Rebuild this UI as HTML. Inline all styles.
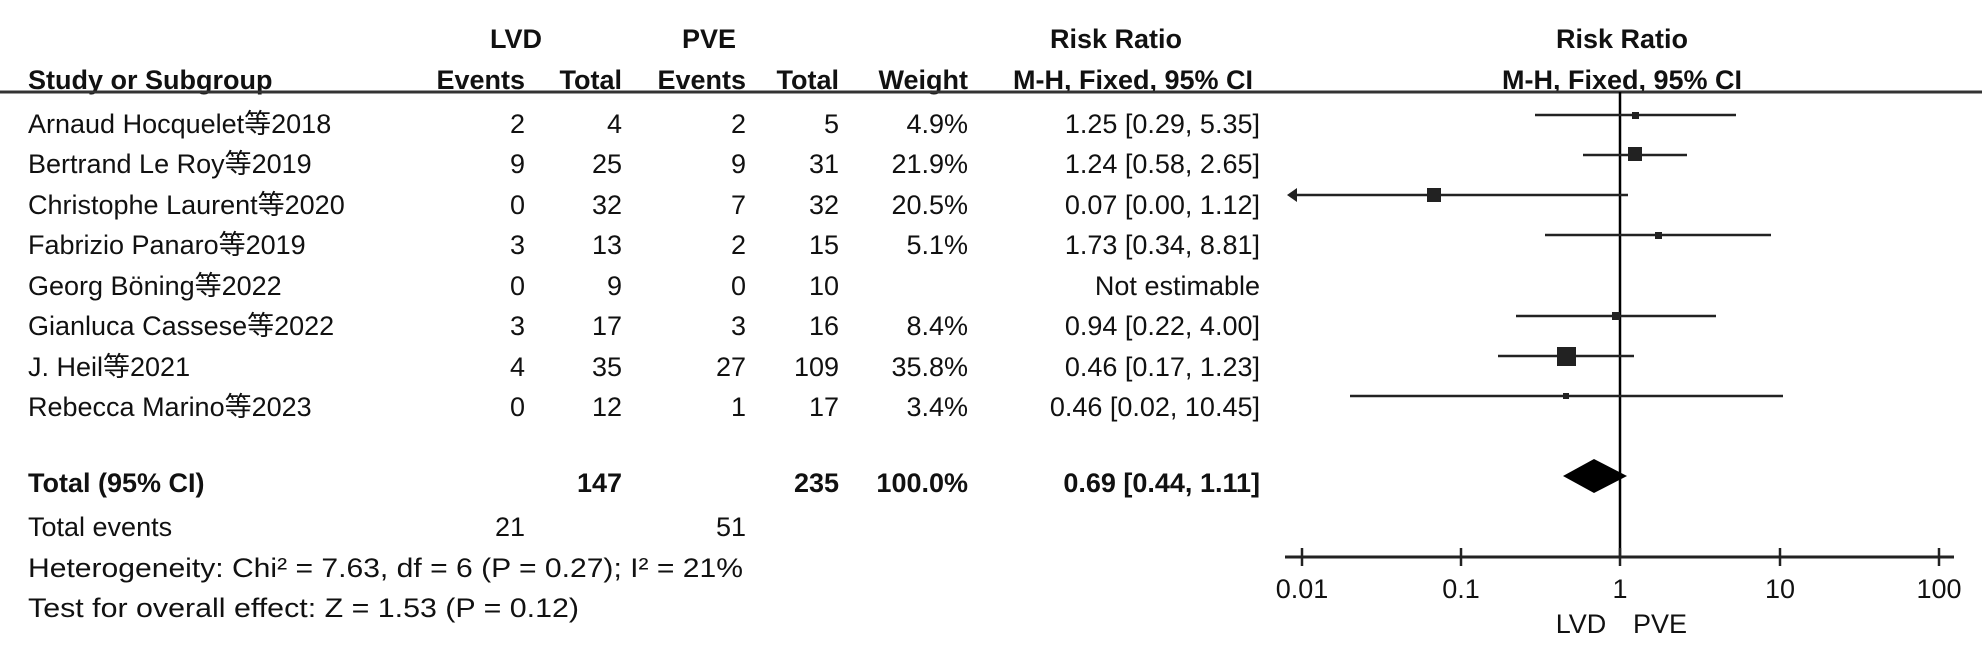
<!DOCTYPE html>
<html><head><meta charset="utf-8"><style>
html,body{margin:0;padding:0;background:#fff}
svg{display:block}
text{font-family:"Liberation Sans","Noto Sans CJK SC",sans-serif;font-size:27px;fill:#111}
.b{font-weight:bold}
</style></head><body>
<svg width="1982" height="670" viewBox="0 0 1982 670" xmlns="http://www.w3.org/2000/svg">
<text class="b" x="516" y="48" text-anchor="middle">LVD</text>
<text class="b" x="709" y="48" text-anchor="middle">PVE</text>
<text class="b" x="1116" y="48" text-anchor="middle">Risk Ratio</text>
<text class="b" x="1622" y="48" text-anchor="middle">Risk Ratio</text>
<text class="b" x="28" y="89">Study or Subgroup</text>
<text class="b" x="525" y="89" text-anchor="end">Events</text>
<text class="b" x="622" y="89" text-anchor="end">Total</text>
<text class="b" x="746" y="89" text-anchor="end">Events</text>
<text class="b" x="839" y="89" text-anchor="end">Total</text>
<text class="b" x="968" y="89" text-anchor="end">Weight</text>
<text class="b" x="1133" y="89" text-anchor="middle">M-H, Fixed, 95% CI</text>
<text class="b" x="1622" y="89" text-anchor="middle">M-H, Fixed, 95% CI</text>
<line x1="0" y1="92" x2="1982" y2="92" stroke="#333" stroke-width="3"/>
<g id="rows">
<text x="28" y="133">Arnaud Hocquelet等2018</text><text x="525" y="133" text-anchor="end">2</text><text x="622" y="133" text-anchor="end">4</text><text x="746" y="133" text-anchor="end">2</text><text x="839" y="133" text-anchor="end">5</text><text x="968" y="133" text-anchor="end">4.9%</text><text x="1260" y="133" text-anchor="end">1.25 [0.29, 5.35]</text>
<text x="28" y="173">Bertrand Le Roy等2019</text><text x="525" y="173" text-anchor="end">9</text><text x="622" y="173" text-anchor="end">25</text><text x="746" y="173" text-anchor="end">9</text><text x="839" y="173" text-anchor="end">31</text><text x="968" y="173" text-anchor="end">21.9%</text><text x="1260" y="173" text-anchor="end">1.24 [0.58, 2.65]</text>
<text x="28" y="214">Christophe Laurent等2020</text><text x="525" y="214" text-anchor="end">0</text><text x="622" y="214" text-anchor="end">32</text><text x="746" y="214" text-anchor="end">7</text><text x="839" y="214" text-anchor="end">32</text><text x="968" y="214" text-anchor="end">20.5%</text><text x="1260" y="214" text-anchor="end">0.07 [0.00, 1.12]</text>
<text x="28" y="254">Fabrizio Panaro等2019</text><text x="525" y="254" text-anchor="end">3</text><text x="622" y="254" text-anchor="end">13</text><text x="746" y="254" text-anchor="end">2</text><text x="839" y="254" text-anchor="end">15</text><text x="968" y="254" text-anchor="end">5.1%</text><text x="1260" y="254" text-anchor="end">1.73 [0.34, 8.81]</text>
<text x="28" y="295">Georg Böning等2022</text><text x="525" y="295" text-anchor="end">0</text><text x="622" y="295" text-anchor="end">9</text><text x="746" y="295" text-anchor="end">0</text><text x="839" y="295" text-anchor="end">10</text><text x="1260" y="295" text-anchor="end">Not estimable</text>
<text x="28" y="335">Gianluca Cassese等2022</text><text x="525" y="335" text-anchor="end">3</text><text x="622" y="335" text-anchor="end">17</text><text x="746" y="335" text-anchor="end">3</text><text x="839" y="335" text-anchor="end">16</text><text x="968" y="335" text-anchor="end">8.4%</text><text x="1260" y="335" text-anchor="end">0.94 [0.22, 4.00]</text>
<text x="28" y="376">J. Heil等2021</text><text x="525" y="376" text-anchor="end">4</text><text x="622" y="376" text-anchor="end">35</text><text x="746" y="376" text-anchor="end">27</text><text x="839" y="376" text-anchor="end">109</text><text x="968" y="376" text-anchor="end">35.8%</text><text x="1260" y="376" text-anchor="end">0.46 [0.17, 1.23]</text>
<text x="28" y="416">Rebecca Marino等2023</text><text x="525" y="416" text-anchor="end">0</text><text x="622" y="416" text-anchor="end">12</text><text x="746" y="416" text-anchor="end">1</text><text x="839" y="416" text-anchor="end">17</text><text x="968" y="416" text-anchor="end">3.4%</text><text x="1260" y="416" text-anchor="end">0.46 [0.02, 10.45]</text>
</g>
<text class="b" x="28" y="492">Total (95% CI)</text>
<text class="b" x="622" y="492" text-anchor="end">147</text>
<text class="b" x="839" y="492" text-anchor="end">235</text>
<text class="b" x="968" y="492" text-anchor="end">100.0%</text>
<text class="b" x="1260" y="492" text-anchor="end">0.69 [0.44, 1.11]</text>
<text x="28" y="536">Total events</text>
<text x="525" y="536" text-anchor="end">21</text>
<text x="746" y="536" text-anchor="end">51</text>
<text x="28" y="577" textLength="715" lengthAdjust="spacingAndGlyphs">Heterogeneity: Chi² = 7.63, df = 6 (P = 0.27); I² = 21%</text>
<text x="28" y="617" textLength="551" lengthAdjust="spacingAndGlyphs">Test for overall effect: Z = 1.53 (P = 0.12)</text>

<g stroke="#222" stroke-width="2.5" fill="#222">
<line x1="1620" y1="92" x2="1620" y2="557" stroke="#000"/>
<line x1="1285" y1="557" x2="1954" y2="557" stroke-width="3"/>
<line x1="1302" y1="548" x2="1302" y2="566"/>
<line x1="1461" y1="548" x2="1461" y2="566"/>
<line x1="1620" y1="548" x2="1620" y2="566"/>
<line x1="1780" y1="548" x2="1780" y2="566"/>
<line x1="1939" y1="548" x2="1939" y2="566"/>
<line x1="1535" y1="115" x2="1736" y2="115"/><rect x="1632" y="112" width="7" height="7" stroke="none"/>
<line x1="1583" y1="155" x2="1687" y2="155"/><rect x="1628" y="147" width="14" height="14" stroke="none"/>
<line x1="1295" y1="195" x2="1628" y2="195"/><rect x="1427" y="188" width="14" height="14" stroke="none"/>
<polygon points="1287,195 1297,188 1297,202" stroke="none"/>
<line x1="1545" y1="235" x2="1771" y2="235"/><rect x="1655" y="232" width="7" height="7" stroke="none"/>
<line x1="1516" y1="316" x2="1716" y2="316"/><rect x="1612" y="312" width="8" height="8" stroke="none"/>
<line x1="1498" y1="356" x2="1634" y2="356"/><rect x="1557" y="347" width="19" height="19" stroke="none"/>
<line x1="1350" y1="396" x2="1783" y2="396"/><rect x="1563" y="393" width="6" height="6" stroke="none"/>
<polygon points="1563,476 1594,459 1627,476 1594,493" stroke="none" fill="#000"/>
</g>
<text x="1302" y="598" text-anchor="middle">0.01</text>
<text x="1461" y="598" text-anchor="middle">0.1</text>
<text x="1620" y="598" text-anchor="middle">1</text>
<text x="1780" y="598" text-anchor="middle">10</text>
<text x="1939" y="598" text-anchor="middle">100</text>
<text x="1581" y="633" text-anchor="middle">LVD</text>
<text x="1660" y="633" text-anchor="middle">PVE</text>
</svg>
</body></html>
